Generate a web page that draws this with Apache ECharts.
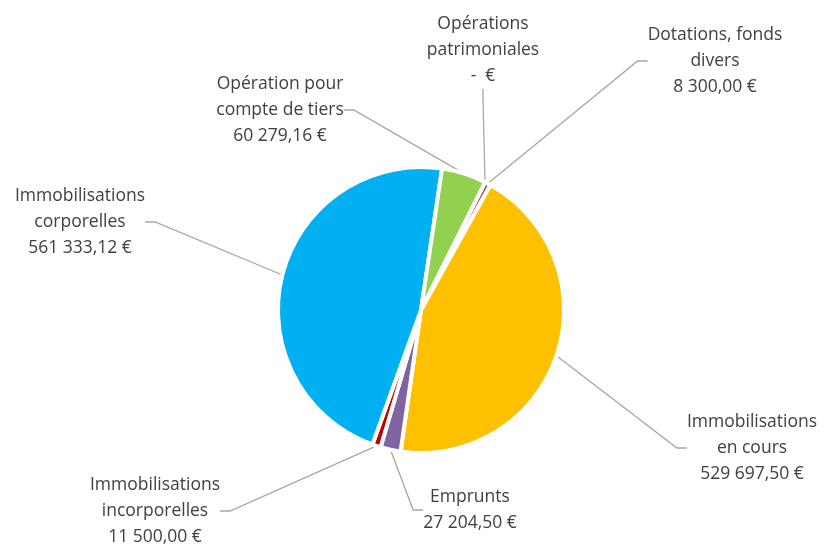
<!DOCTYPE html>
<html>
<head>
<meta charset="utf-8">
<script src="https://cdn.jsdelivr.net/npm/echarts@6/dist/echarts.min.js"></script>
<style>
  html, body { margin: 0; padding: 0; background: #fff; }
  #chart { width: 828px; height: 545px; }
</style>
</head>
<body>
<div id="chart"></div>
<script>
// slices, clockwise from the top
const categories = [
  'Opérations\npatrimoniales',
  'Dotations, fonds\ndivers',
  'Immobilisations\nen cours',
  'Emprunts',
  'Immobilisations\nincorporelles',
  'Immobilisations\ncorporelles',
  'Opération pour\ncompte de tiers',
];
const amounts = [0, 8300, 529697.5, 27204.5, 11500, 561333.12, 60279.16];
const colors = ['#4472C4', '#C0504D', '#FFC000', '#8064A2', '#C00000', '#00B0F0', '#92D050'];

// label block centres (px)
const labelCenters = [
  [483, 50],
  [715, 61],
  [752, 448],
  [470, 510],
  [155, 511],
  [80, 222],
  [280, 110],
];

function formatEuro(value) {
  if (!value) {
    return '-  €';
  }
  const [intPart, decPart] = value.toFixed(2).split('.');
  const grouped = intPart.replace(/\B(?=(\d{3})+(?!\d))/g, ' ');
  return `${grouped},${decPart} €`;
}

const chart = echarts.init(document.getElementById('chart'));

chart.setOption({
  animation: false,
  series: [
    {
      type: 'pie',
      center: [421, 310],
      radius: 143,
      startAngle: 63.4,
      clockwise: true,
      data: categories.map((name, i) => ({
        name,
        value: amounts[i],
        itemStyle: { color: colors[i] },
      })),
      itemStyle: {
        borderColor: '#ffffff',
        borderWidth: 4,
      },
      label: {
        show: true,
        position: 'outside',
        color: '#404040',
        fontFamily: 'Open Sans',
        fontSize: 17.5,
        lineHeight: 26,
        align: 'center',
        formatter: (p) => `${p.name}\n${formatEuro(p.value)}`,
      },
      labelLine: {
        show: true,
        length: 20,
        length2: 10,
        smooth: false,
        lineStyle: { color: '#A6A6A6', width: 1.3 },
      },
      labelLayout: (params) => {
        const [cx, cy] = labelCenters[params.dataIndex];
        return {
          x: cx,
          y: cy,
          align: 'center',
          verticalAlign: 'middle',
        };
      },
      emphasis: { disabled: true },
    },
  ],
});
</script>
</body>
</html>
